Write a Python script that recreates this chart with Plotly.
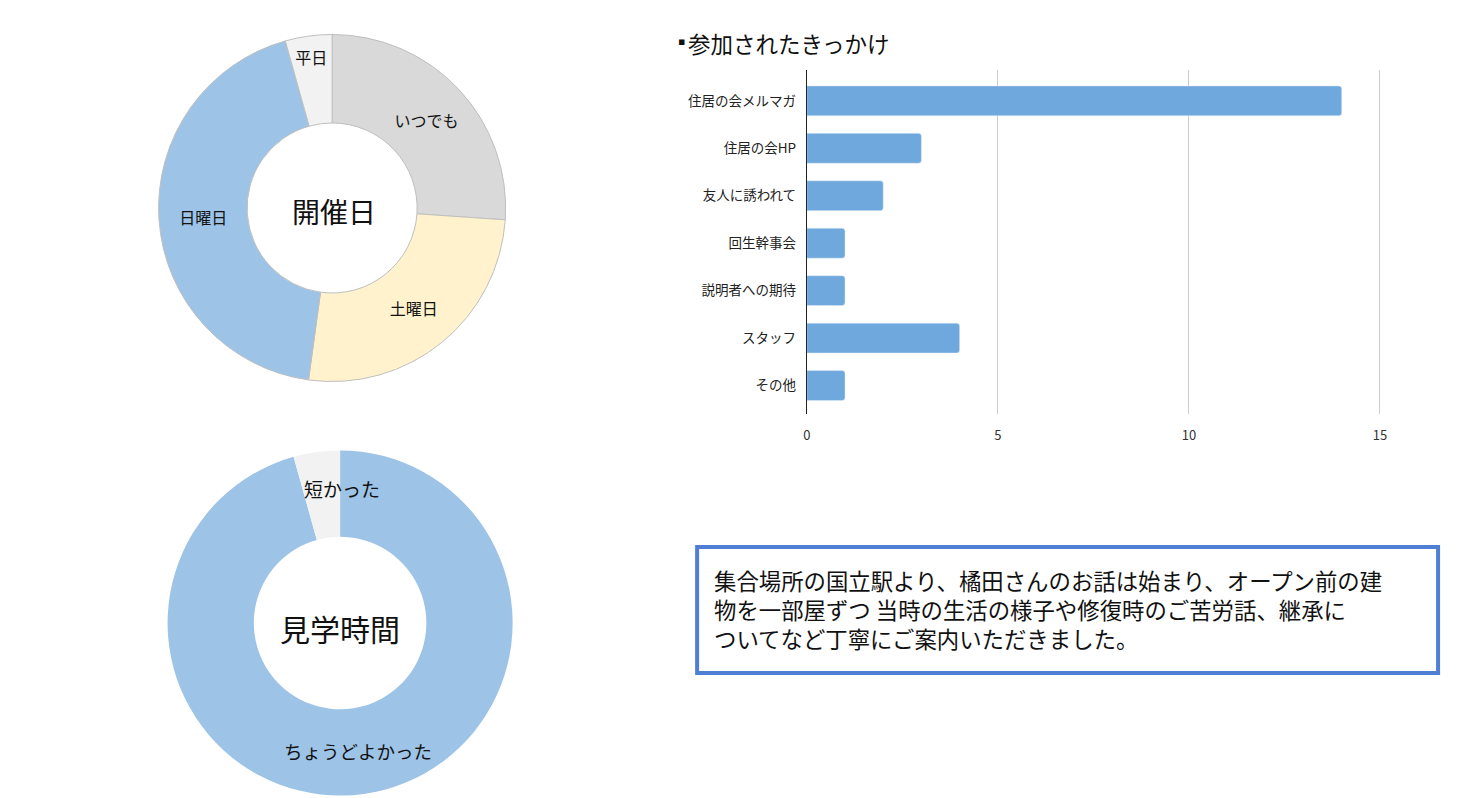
import plotly.graph_objects as go

# ---- data ----
day_labels = ["いつでも", "土曜日", "日曜日", "平日"]
day_values = [6, 6, 10, 1]
day_colors = ["#D9D9D9", "#FFF2CC", "#9DC3E6", "#F2F2F2"]

time_labels = ["ちょうどよかった", "短かった"]
time_values = [22, 1]
time_colors = ["#9DC3E6", "#F2F2F2"]

reason_labels = ["住居の会メルマガ", "住居の会HP", "友人に誘われて", "回生幹事会",
                 "説明者への期待", "スタッフ", "その他"]
reason_values = [14, 3, 2, 1, 1, 4, 1]
x_ticks = [0, 5, 10, 15]

bar_bullet = "▪"
bar_title = "参加されたきっかけ"
donut1_title = "開催日"
donut2_title = "見学時間"
note_lines = ["集合場所の国立駅より、橘田さんのお話は始まり、オープン前の建",
              "物を一部屋ずつ 当時の生活の様子や修復時のご苦労話、継承に",
              "ついてなど丁寧にご案内いただきました。"]

W, H = 1460, 798
OFF = 8  # page body margin in the browser
FONT = "Noto Sans CJK JP"

def fx(p):
    return (p - OFF) / W

def fy(p):
    return 1 - (p - OFF) / H

def px_x(a, b):
    return [fx(a), fx(b)]

def px_y(top, bottom):
    return [fy(bottom), fy(top)]

d1x, d1y = px_x(155, 503), px_y(34, 382)
d2x, d2y = px_x(164, 510), px_y(450, 796)

fig = go.Figure()

fig.add_trace(go.Pie(
    labels=day_labels, values=day_values, sort=False, direction="clockwise",
    rotation=0, hole=0.49,
    marker=dict(colors=day_colors, line=dict(color="#BFBFBF", width=1)),
    textinfo="label", textposition="inside", insidetextorientation="horizontal",
    textfont=dict(family=FONT, size=16, color="#111111"),
    domain=dict(x=d1x, y=d1y), showlegend=False, hoverinfo="label+value",
))

fig.add_trace(go.Pie(
    labels=time_labels, values=time_values, sort=False, direction="clockwise",
    rotation=0, hole=0.50,
    marker=dict(colors=time_colors, line=dict(color="#9DC3E6", width=0)),
    textinfo="none", textposition="none",
    domain=dict(x=d2x, y=d2y), showlegend=False, hoverinfo="label+value",
))

fig.add_trace(go.Bar(
    x=reason_values, y=reason_labels, orientation="h",
    marker=dict(color="#6FA8DC", cornerradius=3),
    width=0.63, showlegend=False, xaxis="x", yaxis="y",
))

fig.update_layout(
    width=W, height=H,
    margin=dict(l=0, r=0, t=0, b=0),
    paper_bgcolor="white", plot_bgcolor="white",
    font=dict(family=FONT, color="#222222"),
    uniformtext=dict(minsize=15, mode="show"),
    xaxis=dict(domain=px_x(805, 1418), range=[0, 16], tickvals=x_ticks,
               showgrid=True, gridcolor="#CCCCCC", gridwidth=1, zeroline=False,
               showline=False, ticks="", ticklabelstandoff=12,
               tickfont=dict(size=13, color="#333333"),
               anchor="y", fixedrange=True),
    yaxis=dict(domain=px_y(70, 414), range=[6.6, -0.65], type="category",
               showgrid=False, zeroline=False, showline=True, linecolor="#222222",
               linewidth=1, ticks="", ticklabelstandoff=7,
               tickfont=dict(size=13.5, color="#222222"), anchor="x", fixedrange=True),
)

def label(x, y, text, size, xanchor="center", family=FONT):
    fig.add_annotation(x=fx(x), y=fy(y), xref="paper", yref="paper", text=text,
                       showarrow=False, xanchor=xanchor, yanchor="middle", align=xanchor,
                       font=dict(family=family, size=size, color="#111111"))

label(679.5, 41.5, bar_bullet, 11, family="DejaVu Sans")
label(684, 43, bar_title, 22.5, xanchor="left")
label(331, 211, donut1_title, 28)
label(337, 628, donut2_title, 30)
label(339, 488, time_labels[1], 19)
label(355, 751, time_labels[0], 18.5)

fig.add_shape(type="rect", xref="paper", yref="paper",
              x0=fx(695), x1=fx(1438), y0=fy(673), y1=fy(547),
              line=dict(color="#4F7FD4", width=4), fillcolor="white", layer="below")

label(710, 609, "<br>".join(note_lines), 22.4, xanchor="left")

fig.write_html("out.html")
